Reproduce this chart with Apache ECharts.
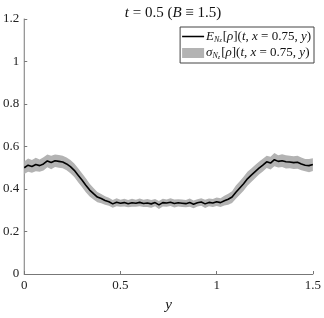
<!DOCTYPE html>
<html>
<head>
<meta charset="utf-8">
<script src="https://cdn.jsdelivr.net/npm/echarts@6/dist/echarts.min.js"></script>
<style>html,body{margin:0;padding:0;background:#fff}#c{width:324px;height:318px}</style>
</head>
<body>
<div id="c"></div>
<script>
var yPos = [0.00,0.02,0.04,0.06,0.08,0.10,0.12,0.14,0.16,0.18,0.20,0.22,0.24,0.26,0.28,0.30,0.32,0.34,0.36,0.38,0.40,0.42,0.44,0.46,0.48,0.50,0.52,0.54,0.56,0.58,0.60,0.62,0.64,0.66,0.68,0.70,0.72,0.74,0.76,0.78,0.80,0.82,0.84,0.86,0.88,0.90,0.92,0.94,0.96,0.98,1.00,1.02,1.04,1.06,1.08,1.10,1.12,1.14,1.16,1.18,1.20,1.22,1.24,1.26,1.28,1.30,1.32,1.34,1.36,1.38,1.40,1.42,1.44,1.46,1.48,1.50];
var meanVals = [0.500,0.512,0.506,0.515,0.510,0.518,0.532,0.525,0.533,0.530,0.527,0.518,0.505,0.488,0.465,0.442,0.418,0.395,0.378,0.362,0.355,0.346,0.340,0.330,0.338,0.333,0.336,0.331,0.335,0.333,0.337,0.332,0.334,0.330,0.336,0.325,0.336,0.334,0.338,0.332,0.335,0.333,0.331,0.336,0.328,0.335,0.339,0.330,0.337,0.334,0.340,0.336,0.345,0.352,0.362,0.385,0.405,0.425,0.448,0.465,0.482,0.498,0.512,0.528,0.522,0.538,0.530,0.533,0.528,0.527,0.524,0.526,0.518,0.512,0.510,0.515];
var stdVals = [0.029,0.031,0.030,0.032,0.029,0.031,0.030,0.032,0.029,0.030,0.029,0.030,0.031,0.032,0.033,0.032,0.033,0.030,0.027,0.024,0.022,0.020,0.019,0.018,0.019,0.017,0.018,0.017,0.019,0.017,0.018,0.017,0.019,0.018,0.017,0.019,0.018,0.017,0.018,0.019,0.017,0.018,0.017,0.019,0.018,0.017,0.018,0.019,0.018,0.019,0.020,0.021,0.023,0.026,0.028,0.031,0.032,0.033,0.033,0.032,0.031,0.030,0.030,0.029,0.030,0.031,0.029,0.030,0.031,0.029,0.030,0.031,0.030,0.029,0.031,0.030];
var xTicks = [0, 0.5, 1, 1.5];
var yTicks = [0, 0.2, 0.4, 0.6, 0.8, 1, 1.2];

var meanData = yPos.map(function(v,i){return [v, meanVals[i]];});
var bandData = yPos.map(function(v,i){return [v, meanVals[i]-stdVals[i], meanVals[i]+stdVals[i]];});

var FONT = 'Liberation Serif';
var NAME_E = 'E';
var NAME_S = 'S';
var chart = echarts.init(document.getElementById('c'), null, {renderer:'canvas'});
chart.setOption({
  animation:false,
  backgroundColor:'#fff',
  title:{
    text:'{i|t} = 0.5 ({i|B} \u2261 1.5)',
    left:168, top:1, textAlign:'center',
    textStyle:{fontFamily:FONT, fontSize:15, fontWeight:'normal', color:'#111',
      rich:{i:{fontFamily:FONT, fontStyle:'italic', fontSize:15, color:'#111'}}}
  },
  legend:{
    right:10, top:27, orient:'vertical',
    itemWidth:22, itemHeight:10, itemGap:3,
    padding:[3,3,3,2],
    borderColor:'#444', borderWidth:1, backgroundColor:'#fff',
    data:[
      {name:NAME_E, icon:'path://M0,0 H100 V7 H0 Z', symbolKeepAspect:true, itemStyle:{color:'#000'}},
      {name:NAME_S, icon:'rect', itemStyle:{color:'#b3b3b3'}}
    ],
    formatter:function(n){
      var sym = n===NAME_E ? '{i|E}' : '{i|\u03c3}';
      return sym + '{s|N}{ss|z}[{i|\u03c1}]({i|t}, {i|x} = 0.75, {i|y})';
    },
    textStyle:{fontFamily:FONT, fontSize:13, color:'#111', padding:[0,0,0,-3],
      rich:{
        i:{fontFamily:FONT, fontStyle:'italic', fontSize:13, color:'#111'},
        s:{fontFamily:FONT, fontStyle:'italic', fontSize:8, color:'#111', verticalAlign:'bottom', padding:[6,0,0,0]},
        ss:{fontFamily:FONT, fontStyle:'italic', fontSize:6, color:'#111', verticalAlign:'bottom', padding:[8,1,0,0]}
      }}
  },
  grid:{left:21, right:9, top:19, bottom:37, containLabel:false},
  xAxis:{
    type:'value', min:xTicks[0], max:xTicks[xTicks.length-1], interval:0.5,
    name:'y', nameLocation:'middle', nameGap:24,
    nameTextStyle:{fontFamily:FONT, fontStyle:'italic', fontSize:15, color:'#111'},
    axisLine:{lineStyle:{color:'#777', width:1}},
    axisTick:{inside:true, length:3, lineStyle:{color:'#777'}},
    axisLabel:{fontFamily:FONT, fontSize:13, color:'#222', margin:5,
      formatter:function(v){return String(v);}},
    splitLine:{show:false}
  },
  yAxis:{
    type:'value', min:yTicks[0], max:yTicks[yTicks.length-1], interval:0.2,
    axisLine:{show:true, lineStyle:{color:'#777', width:1}},
    axisTick:{show:true, inside:true, length:3, lineStyle:{color:'#777'}},
    axisLabel:{fontFamily:FONT, fontSize:13, color:'#222', margin:5,
      formatter:function(v){return String(Math.round(v*10)/10);}},
    splitLine:{show:false}
  },
  series:[
    {name:NAME_S, type:'custom', data:bandData, itemStyle:{color:'#b3b3b3'},
      encode:{x:0, y:[1,2]},
      renderItem:function(params, api){
        if (params.dataIndex !== 0) return null;
        var pts = [];
        for (var i=0;i<bandData.length;i++) pts.push(api.coord([bandData[i][0], bandData[i][2]]));
        for (var j=bandData.length-1;j>=0;j--) pts.push(api.coord([bandData[j][0], bandData[j][1]]));
        return {type:'polygon', shape:{points:pts}, style:{fill:'#b3b3b3'}};
      }},
    {name:NAME_E, type:'line', data:meanData, symbol:'none',
      lineStyle:{color:'#000', width:1.6}, itemStyle:{color:'#000'}}
  ]
});
</script>
</body>
</html>
